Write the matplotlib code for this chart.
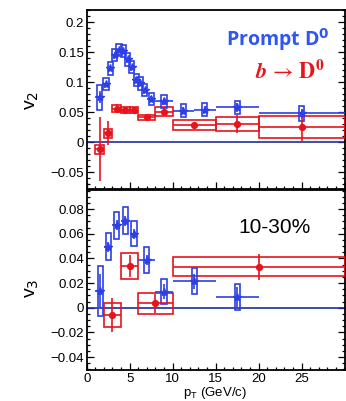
import matplotlib
matplotlib.use('Agg')
import matplotlib.pyplot as plt
from matplotlib.patches import Rectangle
from matplotlib.ticker import MultipleLocator, FuncFormatter

# ---- data: prompt D0 v2 ----
pd_v2_pt = [1.5, 2.25, 2.75, 3.25, 3.75, 4.25, 4.75, 5.25, 5.75, 6.25, 6.75, 7.5, 9, 11.25, 13.75, 17.5, 25]
pd_v2_lo = [1, 2, 2.5, 3, 3.5, 4, 4.5, 5, 5.5, 6, 6.5, 7, 8, 10, 12.5, 15, 20]
pd_v2_hi = [2, 2.5, 3, 3.5, 4, 4.5, 5, 5.5, 6, 6.5, 7, 8, 10, 12.5, 15, 20, 30]
pd_v2 = [0.075, 0.0967, 0.123, 0.1455, 0.153, 0.1515, 0.138, 0.125, 0.104, 0.098, 0.087, 0.072, 0.068, 0.0527, 0.054, 0.058, 0.048]
pd_v2_stat = [0.010, 0.004, 0.004, 0.004, 0.004, 0.004, 0.004, 0.004, 0.004, 0.004, 0.004, 0.005, 0.006, 0.006, 0.006, 0.007, 0.008]
pd_v2_syst = [0.0205, 0.0103, 0.0103, 0.0103, 0.0103, 0.0103, 0.0103, 0.0103, 0.0103, 0.0103, 0.0103, 0.0103, 0.0105, 0.011, 0.011, 0.011, 0.012]

# ---- data: b -> D0 v2 ----
bd_v2_pt = [1.5, 2.5, 3.5, 4.5, 5.5, 7, 9, 12.5, 17.5, 25]
bd_v2_lo = [1, 2, 3, 4, 5, 6, 8, 10, 15, 20]
bd_v2_hi = [2, 3, 4, 5, 6, 8, 10, 15, 20, 30]
bd_v2 = [-0.0115, 0.015, 0.056, 0.054, 0.054, 0.0417, 0.051, 0.0285, 0.0305, 0.025]
bd_v2_stat = [0.053, 0.02, 0.007, 0.005, 0.005, 0.003, 0.006, 0.006, 0.015, 0.024]
bd_v2_syst = [0.0075, 0.007, 0.006, 0.0055, 0.0055, 0.004, 0.007, 0.008, 0.012, 0.018]

# ---- data: prompt D0 v3 ----
pd_v3_pt = [1.6, 2.5, 3.5, 4.5, 5.5, 7, 9, 12.5, 17.5]
pd_v3_lo = [1, 2, 3, 4, 5, 6, 8, 10, 15]
pd_v3_hi = [2, 3, 4, 5, 6, 8, 10, 15, 20]
pd_v3 = [0.0135, 0.0495, 0.067, 0.0705, 0.060, 0.039, 0.013, 0.0216, 0.0089]
pd_v3_stat = [0.0135, 0.004, 0.004, 0.004, 0.004, 0.004, 0.006, 0.006, 0.008]
pd_v3_syst = [0.0205, 0.011, 0.011, 0.011, 0.0103, 0.0105, 0.010, 0.0105, 0.0105]

# ---- data: b -> D0 v3 ----
bd_v3_pt = [3, 5, 8, 20]
bd_v3_lo = [2, 4, 6, 10]
bd_v3_hi = [4, 6, 10, 30]
bd_v3 = [-0.006, 0.0338, 0.0036, 0.0333]
bd_v3_stat = [0.014, 0.009, 0.0075, 0.0105]
bd_v3_syst = [0.0099, 0.0104, 0.0085, 0.0077]

x_ticks = [0, 5, 10, 15, 20, 25]
centrality = "10-30%"

BLUE = '#2e3fe6'
RED = '#e8141c'
NAVY = '#1f2d9e'
TXT_BLUE = '#2f55f2'

plt.rcParams['font.family'] = ['Liberation Sans', 'DejaVu Sans']

W, H = 346, 401
fig = plt.figure(figsize=(W / 100, H / 100), dpi=100)
left = 86.7 / W
width = (344.5 - 86.7) / W
ax1 = fig.add_axes([left, 1 - 189 / H, width, (189 - 10) / H])
ax2 = fig.add_axes([left, 1 - 370 / H, width, (370 - 190) / H])

fmt = FuncFormatter(lambda v, p: ('%g' % v).replace('-', '\u2212'))


def draw_series(ax, pt, lo, hi, val, stat, syst, color, marker, ms, box_half=None):
    for i in range(len(pt)):
        if box_half is None:
            x0, w = lo[i], hi[i] - lo[i]
        else:
            x0, w = pt[i] - box_half, 2 * box_half
        ax.add_patch(Rectangle((x0, val[i] - syst[i]), w, 2 * syst[i],
                               fill=False, ec=color, lw=1.2, zorder=3))
    xerr = [[p - l for p, l in zip(pt, lo)], [h - p for p, h in zip(pt, hi)]]
    ax.errorbar(pt, val, yerr=stat, xerr=xerr, fmt=marker, color=color,
                ms=ms, lw=1.2, capsize=0, zorder=4, clip_on=True)


for ax in (ax1, ax2):
    ax.set_xlim(0, 30)
    ax.axhline(0, color=NAVY, lw=1.2, zorder=2)
    ax.xaxis.set_major_locator(MultipleLocator(5))
    ax.xaxis.set_minor_locator(MultipleLocator(1))
    ax.tick_params(which='both', direction='in', top=False, right=True,
                   labelsize=9.5, pad=2)
    ax.tick_params(which='major', length=5, width=0.9)
    ax.tick_params(which='minor', length=2.5, width=0.9)
    for s in ax.spines.values():
        s.set_linewidth(1.3)
    ax.yaxis.set_major_formatter(fmt)

ax1.set_ylim(-0.0776, 0.22)
ax1.yaxis.set_major_locator(MultipleLocator(0.05))
ax1.yaxis.set_minor_locator(MultipleLocator(0.01))
ax1.tick_params(labelbottom=False)

ax2.set_ylim(-0.0505, 0.0955)
ax2.yaxis.set_major_locator(MultipleLocator(0.02))
ax2.yaxis.set_minor_locator(MultipleLocator(0.005))
ax2.set_xticks(x_ticks)
ax2.xaxis.set_major_formatter(fmt)

draw_series(ax1, bd_v2_pt, bd_v2_lo, bd_v2_hi, bd_v2, bd_v2_stat, bd_v2_syst, RED, 'o', 4.2)
draw_series(ax1, pd_v2_pt, pd_v2_lo, pd_v2_hi, pd_v2, pd_v2_stat, pd_v2_syst, BLUE, '*', 6, box_half=0.3)
draw_series(ax2, bd_v3_pt, bd_v3_lo, bd_v3_hi, bd_v3, bd_v3_stat, bd_v3_syst, RED, 'o', 4.2)
draw_series(ax2, pd_v3_pt, pd_v3_lo, pd_v3_hi, pd_v3, pd_v3_stat, pd_v3_syst, BLUE, '*', 6, box_half=0.3)

fig.text(32 / W, 1 - 100 / H, r'v$_2$', rotation=90, ha='center', va='center', fontsize=14)
fig.text(32 / W, 1 - 288 / H, r'v$_3$', rotation=90, ha='center', va='center', fontsize=14)
fig.text(215 / W, 1 - 393 / H, r'p$_\mathregular{T}$ (GeV/c)', ha='center', va='center', fontsize=9.5)

fig.text(278 / W, 1 - 40 / H, r'Prompt D$^\mathbf{0}$', ha='center', va='center',
         fontsize=14, fontweight='bold', color=TXT_BLUE, family=['Open Sans', 'DejaVu Sans'],
         math_fontfamily='dejavusans')
fig.text(290 / W, 1 - 72 / H, r'$\mathbfit{b}\,\rightarrow\,\mathbf{D}^\mathbf{0}$', ha='center', va='center',
         fontsize=16, color=RED, math_fontfamily='stix')
fig.text(274 / W, 1 - 227 / H, centrality, ha='center', va='center', fontsize=15)

fig.savefig('out.png', dpi=100)
